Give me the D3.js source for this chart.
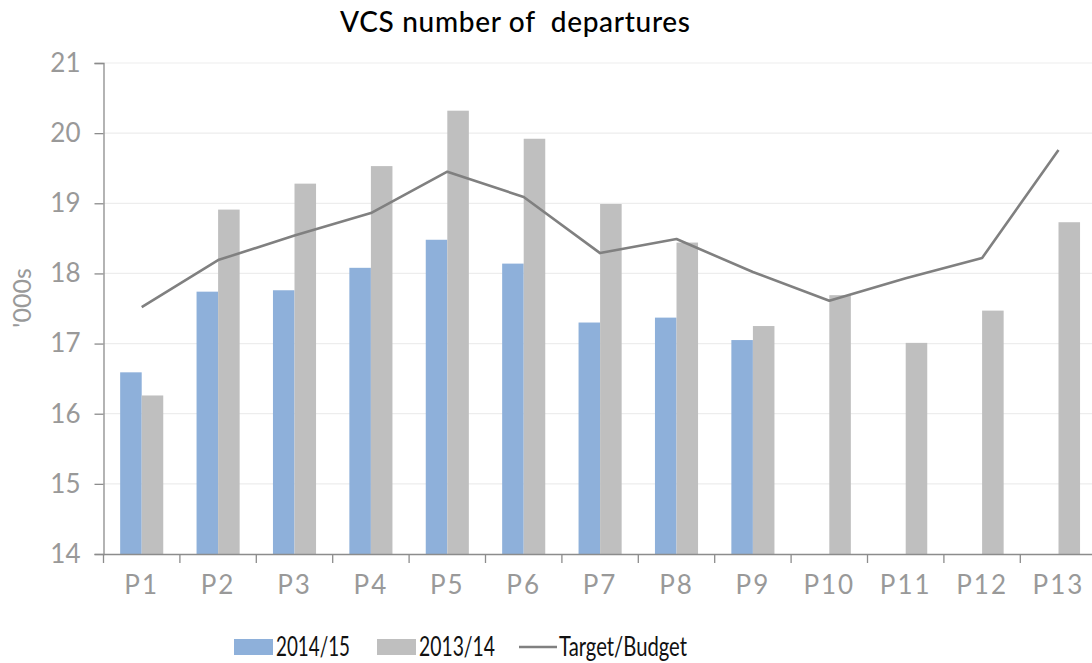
<!DOCTYPE html>
<html>
<head>
<meta charset="utf-8">
<script src="https://cdn.jsdelivr.net/npm/d3@7"></script>
<style>
  html, body { margin: 0; padding: 0; background: #fff; }
  svg { display: block; font-family: Lato, "Open Sans", sans-serif; }
</style>
</head>
<body>
<svg id="chart" width="1092" height="663"></svg>
<script>
const categories = ["P1","P2","P3","P4","P5","P6","P7","P8","P9","P10","P11","P12","P13"];
const series2014 = [16.59, 17.74, 17.76, 18.08, 18.48, 18.14, 17.30, 17.37, 17.05, null, null, null, null];
const series2013 = [16.26, 18.91, 19.28, 19.53, 20.32, 19.92, 18.99, 18.44, 17.25, 17.69, 17.01, 17.47, 18.73];
const target = [17.52, 18.19, 18.54, 18.86, 19.45, 19.09, 18.29, 18.49, 18.02, 17.61, 17.93, 18.22, 19.76];
const yTicks = [14, 15, 16, 17, 18, 19, 20, 21];
const seriesNames = ["2014/15", "2013/14", "Target/Budget"];
const colors = { s2014: "#8EB0DA", s2013: "#BFBFBF", line: "#808080" };

const svg = d3.select("#chart");
const plotLeft = 103.5, plotRight = 1096.7, plotTop = 63, plotBottom = 554;

const x = d3.scaleBand().domain(categories).range([plotLeft, plotRight]).padding(0);
const y = d3.scaleLinear().domain([14, 21]).range([plotBottom, plotTop]);
const xInner = d3.scaleBand().domain(["a", "b"]).range([x.bandwidth() * 0.218, x.bandwidth() * 0.782]).padding(0);

// gridlines
svg.append("g").selectAll("line").data(yTicks.slice(1)).join("line")
  .attr("x1", plotLeft).attr("x2", plotRight)
  .attr("y1", d => y(d)).attr("y2", d => y(d))
  .attr("stroke", "#EDEDED").attr("stroke-width", 1.2);

// bars
const groups = svg.append("g").selectAll("g").data(categories).join("g")
  .attr("transform", d => `translate(${x(d)},0)`);
groups.each(function(c, i) {
  const g = d3.select(this);
  if (series2014[i] != null) {
    g.append("rect").attr("x", xInner("a")).attr("width", xInner.bandwidth())
      .attr("y", y(series2014[i])).attr("height", y(14) - y(series2014[i]))
      .attr("fill", colors.s2014);
  }
  if (series2013[i] != null) {
    g.append("rect").attr("x", xInner("b")).attr("width", xInner.bandwidth())
      .attr("y", y(series2013[i])).attr("height", y(14) - y(series2013[i]))
      .attr("fill", colors.s2013);
  }
});

// target line
const line = d3.line().x((d, i) => x(categories[i]) + x.bandwidth() / 2).y(d => y(d));
svg.append("path").datum(target).attr("d", line)
  .attr("fill", "none").attr("stroke", colors.line).attr("stroke-width", 2.6)
  .attr("stroke-linejoin", "round");

// y axis
const yAxis = d3.axisLeft(y).tickValues(yTicks).tickSize(9).tickPadding(14).tickFormat(d3.format("d"));
const gy = svg.append("g").attr("transform", `translate(${plotLeft},0)`).call(yAxis);
gy.select(".domain").attr("stroke", "#8C8C8C").attr("stroke-width", 1.3);
gy.selectAll(".tick line").attr("stroke", "#8C8C8C").attr("stroke-width", 1.3);
gy.selectAll(".tick text").attr("fill", "#999").attr("font-size", 26).attr("font-family", "Lato, sans-serif");

// x axis
const xAxis = d3.axisBottom(x).tickSize(0).tickPadding(22);
const gx = svg.append("g").attr("transform", `translate(0,${plotBottom})`).call(xAxis);
gx.select(".domain").attr("stroke", "#8C8C8C").attr("stroke-width", 1.3);
gx.selectAll(".tick text").attr("fill", "#999").attr("font-size", 26).attr("font-family", "Lato, sans-serif")
  .attr("letter-spacing", 2);
// category boundary ticks
gx.append("g").selectAll("line").data(categories).join("line")
  .attr("x1", d => x(d)).attr("x2", d => x(d)).attr("y1", 0).attr("y2", 9)
  .attr("stroke", "#8C8C8C").attr("stroke-width", 1.3);

// title
svg.append("text").attr("x", 515).attr("y", 32).attr("text-anchor", "middle")
  .attr("font-size", 28).attr("fill", "#000").attr("font-family", "Lato, sans-serif")
  .attr("font-weight", 500)
  .attr("textLength", 350).attr("lengthAdjust", "spacing")
  .attr("xml:space", "preserve")
  .text("VCS number of  departures");

// y axis title
svg.append("text").attr("transform", "translate(31,298) rotate(-90)").attr("text-anchor", "middle")
  .attr("font-size", 25).attr("fill", "#999").attr("font-family", "Lato, sans-serif")
  .text("'000s");

// legend
const legend = svg.append("g");
const legendItems = [
  { name: seriesNames[0], type: "rect", color: colors.s2014, x: 234, tx: 276, w: 74 },
  { name: seriesNames[1], type: "rect", color: colors.s2013, x: 377, tx: 419, w: 76 },
  { name: seriesNames[2], type: "line", color: colors.line, x: 519, tx: 559, w: 128 }
];
legendItems.forEach(it => {
  if (it.type === "rect") {
    legend.append("rect").attr("x", it.x).attr("y", 639).attr("width", 39).attr("height", 16).attr("fill", it.color);
  } else {
    legend.append("line").attr("x1", it.x).attr("x2", it.x + 38).attr("y1", 647).attr("y2", 647)
      .attr("stroke", it.color).attr("stroke-width", 2.6);
  }
  legend.append("text").attr("x", it.tx).attr("y", 656).attr("font-size", 26).attr("fill", "#111")
    .attr("font-family", "Lato, sans-serif")
    .attr("textLength", it.w).attr("lengthAdjust", "spacingAndGlyphs")
    .text(it.name);
});
</script>
</body>
</html>
